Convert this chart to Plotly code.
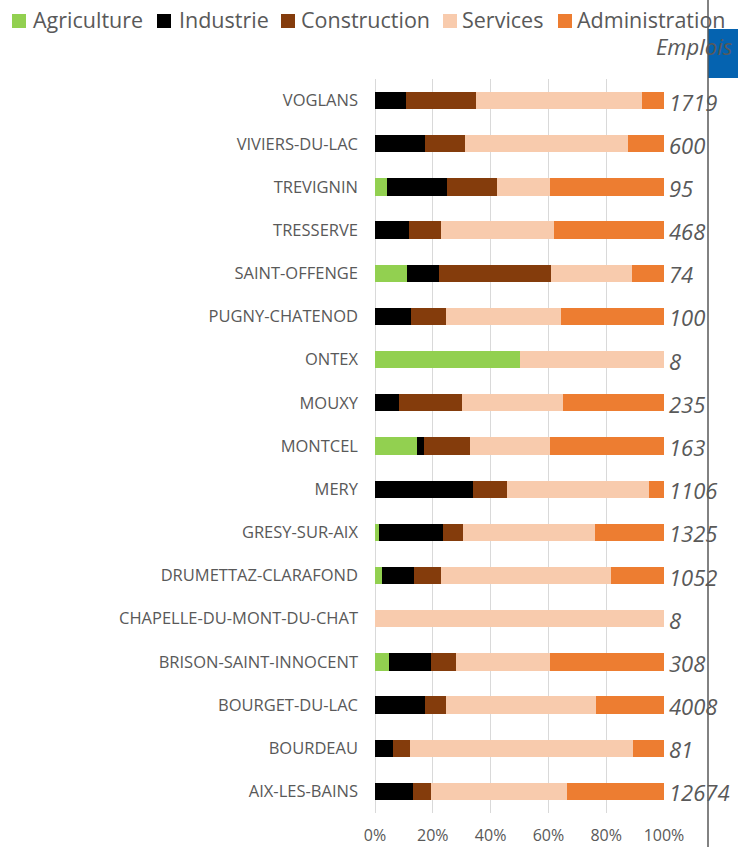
import plotly.graph_objects as go

communes = ["VOGLANS", "VIVIERS-DU-LAC", "TREVIGNIN", "TRESSERVE", "SAINT-OFFENGE",
            "PUGNY-CHATENOD", "ONTEX", "MOUXY", "MONTCEL", "MERY", "GRESY-SUR-AIX",
            "DRUMETTAZ-CLARAFOND", "CHAPELLE-DU-MONT-DU-CHAT", "BRISON-SAINT-INNOCENT",
            "BOURGET-DU-LAC", "BOURDEAU", "AIX-LES-BAINS"]

agriculture    = [0.0, 0.0, 4.0, 0.0, 10.9, 0.0, 50.0, 0.0, 14.7, 0.0, 1.5, 2.5, 0.0, 4.7, 0.0, 0.0, 0.0]
industrie      = [10.7, 17.4, 21.0, 11.8, 11.2, 12.6, 0.0, 8.3, 2.2, 34.0, 22.0, 11.0, 0.0, 14.7, 17.2, 6.2, 13.0]
construction   = [24.2, 13.6, 17.2, 11.0, 38.7, 11.8, 0.0, 21.7, 16.0, 11.6, 6.9, 9.3, 0.0, 8.6, 7.5, 5.9, 6.5]
services       = [57.6, 56.4, 18.5, 39.2, 28.1, 40.0, 50.0, 35.1, 27.8, 49.3, 45.6, 58.8, 100.0, 32.5, 51.8, 77.1, 46.9]
administration = [7.5, 12.6, 39.3, 38.0, 11.1, 35.6, 0.0, 34.9, 39.3, 5.1, 24.0, 18.4, 0.0, 39.5, 23.5, 10.8, 33.6]

emplois = [1719, 600, 95, 468, 74, 100, 8, 235, 163, 1106, 1325, 1052, 8, 308, 4008, 81, 12674]

series_names = ["Agriculture", "Industrie", "Construction", "Services", "Administration"]
series_values = [agriculture, industrie, construction, services, administration]
series_colors = ["#92D050", "#000000", "#843C0C", "#F8CBAD", "#ED7D31"]

TEXT = "#595959"
FONT = "Open Sans"
W, H = 738, 847
L, R, T, B = 375, 74, 79, 34
PW, PH = W - L - R, H - T - B


def px2paper(px, py):
    return (px - L) / PW, (H - B - py) / PH


fig = go.Figure()
for name, vals, col in zip(series_names, series_values, series_colors):
    fig.add_trace(go.Bar(
        y=communes, x=vals, name=name, orientation="h",
        marker=dict(color=col, line=dict(width=0)),
        showlegend=False,
    ))

shapes = []
annotations = []

# manual legend (squares + labels)
legend_sq_x = [12, 157, 281, 443, 558]
legend_tx_x = [31, 177, 299, 460, 575]
for name, col, sx, tx in zip(series_names, series_colors, legend_sq_x, legend_tx_x):
    x0, y0 = px2paper(sx, 28)
    x1, y1 = px2paper(sx + 14, 14)
    shapes.append(dict(type="rect", xref="paper", yref="paper", x0=x0, x1=x1, y0=y0, y1=y1,
                       fillcolor=col, line=dict(width=0), layer="above"))
    ax, ay = px2paper(tx, 19.5)
    annotations.append(dict(text=name, xref="paper", yref="paper", x=ax, y=ay,
                            xanchor="left", yanchor="middle", showarrow=False,
                            font=dict(family=FONT, size=21.5, color=TEXT)))

# right-hand decorations
bx0, by0 = px2paper(708, 78)
bx1, by1 = px2paper(738, 29)
shapes.append(dict(type="rect", xref="paper", yref="paper", x0=bx0, x1=bx1, y0=by0, y1=by1,
                   fillcolor="#0563B0", line=dict(width=0), layer="above"))
lx, ly0 = px2paper(708, 847)
_, ly1 = px2paper(708, 0)
shapes.append(dict(type="line", xref="paper", yref="paper", x0=lx, x1=lx, y0=ly0, y1=ly1,
                   line=dict(color="#595959", width=1.5), layer="above"))

ex, ey = px2paper(654, 45.5)
annotations.append(dict(text="Emplois", xref="paper", yref="paper", x=ex, y=ey,
                        xanchor="left", yanchor="middle", showarrow=False,
                        font=dict(family=FONT, size=22, color=TEXT, style="italic")))

for c, e in zip(communes, emplois):
    annotations.append(dict(text=str(e), xref="paper", yref="y", x=1, y=c,
                            xanchor="left", yanchor="middle", xshift=3, yshift=-1, showarrow=False,
                            font=dict(family=FONT, size=22, color=TEXT, style="italic")))

fig.update_layout(
    width=W, height=H,
    margin=dict(l=L, r=R, t=T, b=B, pad=0, autoexpand=False),
    barmode="stack", barnorm="percent", bargap=0.6,
    plot_bgcolor="white", paper_bgcolor="white",
    font=dict(family=FONT, color=TEXT),
    shapes=shapes, annotations=annotations,
    xaxis=dict(range=[0, 100], dtick=20, ticksuffix="%", showgrid=True,
               gridcolor="#D9D9D9", gridwidth=1, zeroline=True, zerolinecolor="#D9D9D9",
               zerolinewidth=1, showline=False, tickfont=dict(family=FONT, size=16, color=TEXT),
               ticklabelstandoff=11, automargin=False, fixedrange=True),
    yaxis=dict(autorange="reversed", showgrid=False, zeroline=False, showline=False,
               tickfont=dict(family=FONT, size=16.5, color=TEXT), ticklabelstandoff=16,
               automargin=False, fixedrange=True),
)

fig.write_html("out.html", config={"displayModeBar": False},
               post_script="document.body.style.margin='0px';document.body.style.overflow='hidden';")
